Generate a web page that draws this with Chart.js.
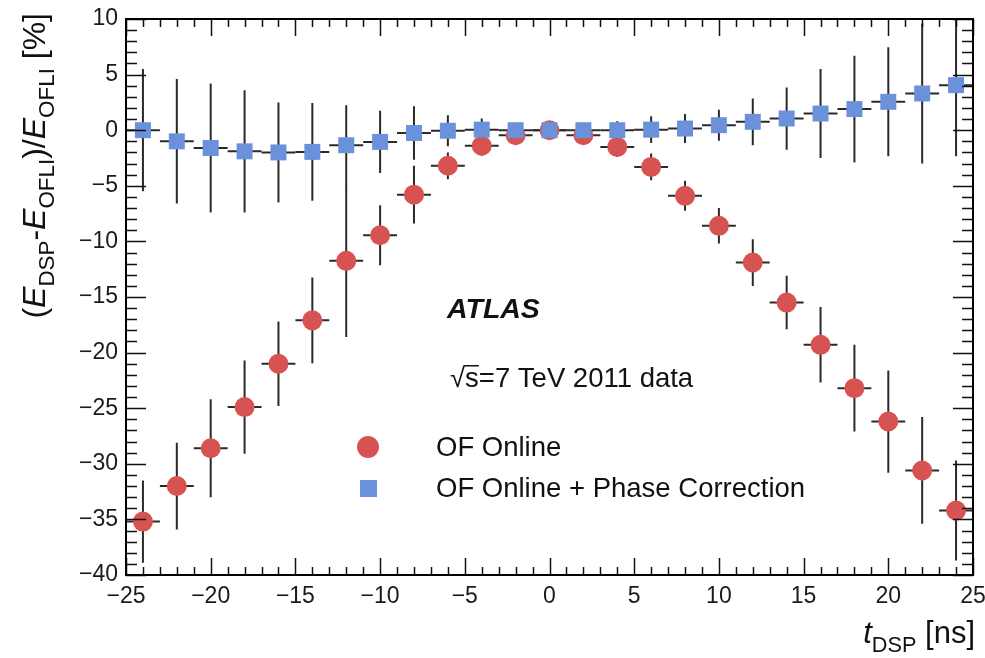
<!DOCTYPE html>
<html>
<head>
<meta charset="utf-8">
<script src="https://cdn.jsdelivr.net/npm/chart.js@4.4.1/dist/chart.umd.min.js"></script>
<style>
  html, body { margin: 0; padding: 0; background: #fff; }
  #wrap { width: 985px; height: 658px; }
</style>
</head>
<body>
<div id="wrap"><canvas id="c" width="985" height="658"></canvas></div>
<script>
// ---- data ----
const T_DSP = [-24, -22, -20, -18, -16, -14, -12, -10, -8, -6, -4, -2, 0, 2, 4, 6, 8, 10, 12, 14, 16, 18, 20, 22, 24];
const T_HALF_BIN = 1; // ns, horizontal bars

const OF_ONLINE = [-35.2, -32.0, -28.6, -24.9, -21.0, -17.1, -11.75, -9.45, -5.8, -3.2, -1.4, -0.45, 0.0,
                   -0.45, -1.5, -3.3, -5.9, -8.6, -11.9, -15.5, -19.3, -23.2, -26.2, -30.6, -34.2];
const OF_ONLINE_ERR = [3.7, 3.9, 4.4, 4.2, 3.8, 3.85, 6.85, 2.7, 2.6, 1.2, 0.9, 0.5, 0.3,
                       0.5, 0.9, 1.2, 1.35, 1.6, 2.1, 2.4, 3.4, 3.9, 4.6, 4.8, 4.5];

const OF_PHASE = [0.0, -1.0, -1.6, -1.9, -2.0, -1.95, -1.35, -1.05, -0.25, -0.05, 0.05, 0.0, 0.0,
                  0.0, 0.0, 0.05, 0.15, 0.45, 0.75, 1.05, 1.5, 1.9, 2.55, 3.3, 4.05];
const OF_PHASE_ERR = [5.5, 5.6, 5.8, 5.5, 4.5, 4.4, 3.6, 2.8, 2.4, 1.4, 1.0, 0.6, 0.5,
                      0.6, 0.8, 1.2, 1.3, 1.4, 2.1, 2.8, 4.0, 4.8, 4.9, 6.3, 6.4];

const X_TICKS = [-25, -20, -15, -10, -5, 0, 5, 10, 15, 20, 25];
const Y_TICKS = [-40, -35, -30, -25, -20, -15, -10, -5, 0, 5, 10];

const SERIES_NAMES = ['OF Online', 'OF Online + Phase Correction'];

// ---- styles ----
const RED = '#d75351';
const BLUE = '#6c91db';
const BAR_COLOR = '#2a2a2a';
const FONT = '"Liberation Sans", Arial, Helvetica, sans-serif';

function minus(v) {
  return v < 0 ? '\u2212' + Math.abs(v) : String(v);
}

function toPoints(ys, errs) {
  return T_DSP.map((t, i) => ({ x: t, y: ys[i], yErr: errs[i], xErr: T_HALF_BIN }));
}

// text with italic / subscript parts along one baseline
function richWidth(ctx, parts, size) {
  let w = 0;
  parts.forEach(p => {
    const s = p.sub ? size * 0.7 : size;
    ctx.font = `${p.it ? 'italic ' : ''}${s}px ${FONT}`;
    w += ctx.measureText(p.t).width;
  });
  return w;
}
function drawRich(ctx, parts, size, x, y) {
  let cx = x;
  parts.forEach(p => {
    const s = p.sub ? size * 0.7 : size;
    ctx.font = `${p.it ? 'italic ' : ''}${s}px ${FONT}`;
    ctx.fillText(p.t, cx, p.sub ? y + size * 0.28 : y);
    cx += ctx.measureText(p.t).width;
  });
}

// ---- error bars under the markers ----
const errorBarPlugin = {
  id: 'errorBars',
  beforeDatasetsDraw(chart) {
    const { ctx, chartArea: a } = chart;
    const xs = chart.scales.x, ys = chart.scales.y;
    ctx.save();
    ctx.beginPath();
    ctx.rect(a.left, a.top, a.right - a.left, a.bottom - a.top);
    ctx.clip();
    ctx.strokeStyle = BAR_COLOR;
    ctx.lineWidth = 2;
    chart.data.datasets.forEach(ds => {
      ds.data.forEach(p => {
        const x = xs.getPixelForValue(p.x);
        const y = ys.getPixelForValue(p.y);
        ctx.beginPath();
        ctx.moveTo(x, ys.getPixelForValue(p.y + p.yErr));
        ctx.lineTo(x, ys.getPixelForValue(p.y - p.yErr));
        ctx.moveTo(xs.getPixelForValue(p.x - p.xErr), y);
        ctx.lineTo(xs.getPixelForValue(p.x + p.xErr), y);
        ctx.stroke();
      });
    });
    ctx.restore();
  }
};

// ---- ROOT style frame, inner ticks, titles, legend ----
const frameTicksPlugin = {
  id: 'frameTicks',
  afterDatasetsDraw(chart) {
    const { ctx, chartArea: a } = chart;
    const xs = chart.scales.x, ys = chart.scales.y;
    ctx.save();
    ctx.strokeStyle = '#111';
    ctx.lineWidth = 1.5;
    ctx.beginPath();
    for (let v = xs.min; v <= xs.max; v += 1) {
      const x = Math.round(xs.getPixelForValue(v)) + 0.5;
      const len = v % 5 === 0 ? 17 : 8;
      ctx.moveTo(x, a.bottom); ctx.lineTo(x, a.bottom - len);
      ctx.moveTo(x, a.top); ctx.lineTo(x, a.top + len);
    }
    for (let v = ys.min; v <= ys.max; v += 1) {
      const y = Math.round(ys.getPixelForValue(v)) + 0.5;
      const len = v % 5 === 0 ? 20 : 11;
      ctx.moveTo(a.left, y); ctx.lineTo(a.left + len, y);
      ctx.moveTo(a.right, y); ctx.lineTo(a.right - len, y);
    }
    ctx.stroke();
    ctx.lineWidth = 2;
    ctx.strokeStyle = '#000';
    ctx.strokeRect(a.left, a.top, a.right - a.left, a.bottom - a.top);
    ctx.restore();
  },
  afterDraw(chart) {
    const { ctx } = chart;
    ctx.save();
    ctx.fillStyle = '#111';
    ctx.textBaseline = 'alphabetic';
    ctx.textAlign = 'left';

    // y title, rotated, right aligned to the top
    const yTitle = [
      { t: '(' }, { t: 'E', it: true }, { t: 'DSP', sub: true }, { t: '-' },
      { t: 'E', it: true }, { t: 'OFLI', sub: true }, { t: ')/' },
      { t: 'E', it: true }, { t: 'OFLI', sub: true }, { t: ' [%]' }
    ];
    const ySize = 32;
    const yw = richWidth(ctx, yTitle, ySize);
    ctx.save();
    ctx.translate(45, 13);
    ctx.rotate(-Math.PI / 2);
    drawRich(ctx, yTitle, ySize, -yw, 0);
    ctx.restore();

    // x title, right aligned
    const xTitle = [{ t: 't', it: true }, { t: 'DSP', sub: true }, { t: ' [ns]' }];
    const xSize = 31;
    const xw = richWidth(ctx, xTitle, xSize);
    drawRich(ctx, xTitle, xSize, 975 - xw, 643);

    // labels
    ctx.font = `italic bold 28.5px ${FONT}`;
    ctx.fillText('ATLAS', 447, 318);

    ctx.font = `27.5px ${FONT}`;
    const sx = 450, sy = 387;
    ctx.fillText('\u221A', sx, sy);
    const rw = ctx.measureText('\u221A').width;
    const sw = ctx.measureText('s').width;
    ctx.fillText('s=7 TeV 2011 data', sx + rw, sy);
    ctx.fillRect(sx + rw - 1, sy - 22, sw + 1, 1.5);

    // legend
    const ds = chart.data.datasets;
    ctx.fillStyle = ds[0].backgroundColor;
    ctx.beginPath();
    ctx.arc(368, 447, 11, 0, Math.PI * 2);
    ctx.fill();
    ctx.fillStyle = ds[1].backgroundColor;
    ctx.fillRect(360, 480, 17, 17);
    ctx.fillStyle = '#111';
    ctx.textBaseline = 'middle';
    ctx.font = `27.5px ${FONT}`;
    ctx.fillText(ds[0].label, 436, 448);
    ctx.fillText(ds[1].label, 436, 489);
    ctx.restore();
  }
};

Chart.register(errorBarPlugin, frameTicksPlugin);

new Chart(document.getElementById('c'), {
  type: 'scatter',
  data: {
    datasets: [
      {
        label: SERIES_NAMES[0],
        data: toPoints(OF_ONLINE, OF_ONLINE_ERR),
        backgroundColor: RED,
        borderWidth: 0,
        pointStyle: 'circle',
        pointRadius: 10,
        order: 2
      },
      {
        label: SERIES_NAMES[1],
        data: toPoints(OF_PHASE, OF_PHASE_ERR),
        backgroundColor: BLUE,
        borderWidth: 0,
        pointStyle: 'rect',
        pointRadius: 11.3,
        order: 1
      }
    ]
  },
  options: {
    responsive: false,
    animation: false,
    layout: { padding: { left: 0, right: 12, top: 19, bottom: 0 } },
    plugins: { legend: { display: false }, tooltip: { enabled: false } },
    scales: {
      x: {
        type: 'linear',
        min: -25, max: 25,
        grid: { display: false, drawTicks: false },
        border: { display: false },
        afterBuildTicks: s => { s.ticks = X_TICKS.map(v => ({ value: v })); },
        afterFit: s => { s.height = 83; s.paddingLeft = 0; s.paddingRight = 0; },
        ticks: {
          padding: 8,
          color: '#1a1a1a',
          font: { family: FONT, size: 23 },
          maxRotation: 0,
          callback: v => minus(v)
        }
      },
      y: {
        type: 'linear',
        min: -40, max: 10,
        grid: { display: false, drawTicks: false },
        border: { display: false },
        afterBuildTicks: s => { s.ticks = Y_TICKS.map(v => ({ value: v })); },
        afterFit: s => { s.width = 126; s.paddingTop = 0; s.paddingBottom = 0; },
        ticks: {
          padding: 8,
          color: '#1a1a1a',
          font: { family: FONT, size: 23 },
          callback: v => minus(v)
        }
      }
    }
  }
});
</script>
</body>
</html>
